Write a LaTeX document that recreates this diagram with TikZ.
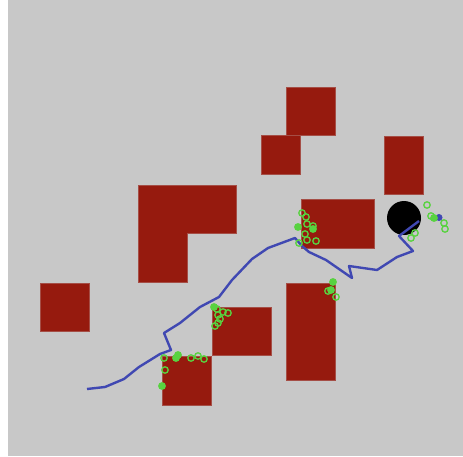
\documentclass[tikz,border=0pt]{standalone}
\usepackage{tikz}
\usetikzlibrary{positioning}

\definecolor{floorgray}{RGB}{200,200,200}
\definecolor{wallred}{RGB}{150,26,14}
\definecolor{pathblue}{RGB}{64,72,178}
\definecolor{sampgreen}{RGB}{88,210,64}

\begin{document}
\begin{tikzpicture}[
    x=0.5mm, y=-0.5mm,
    obstacle/.style={fill=wallred, draw=wallred!70!floorgray, line width=0.6pt},
    route/.style={draw=pathblue, line width=3.4pt, line join=round},
    sample/.style={draw=sampgreen, line width=1.9pt},
    hitsample/.style={draw=sampgreen, fill=sampgreen, line width=1.9pt}
]

% Background
\useasboundingbox (0,0) rectangle (463,456);
\fill[white] (0,0) rectangle (463,456);
\fill[floorgray] (8,0) rectangle (463,456);

% Obstacles
\path[obstacle] (286,87) rectangle (335,135);
\path[obstacle] (261,135) rectangle (300,174);
\path[obstacle] (384,136) rectangle (423,194);
\path[obstacle] (138,185) -- (236,185) -- (236,233) -- (187,233) -- (187,282) -- (138,282) -- cycle;
\path[obstacle] (301,199) rectangle (374,248);
\path[obstacle] (40,283) rectangle (89,331);
\path[obstacle] (212,307) rectangle (271,355);
\path[obstacle] (162,356) rectangle (211,405);
\path[obstacle] (286,283) rectangle (335,380);

% Robot and goal
\fill[black] (404,218) circle (17);
\fill[pathblue] (439,217.5) circle (3.5);

% Planned path
\draw[route] (87,389) -- (105,387) -- (124,379) -- (139,367) -- (160,354)
    -- (171,350) -- (164,333) -- (180,323) -- (200,307) -- (219,297)
    -- (232,280) -- (252,259) -- (268,248) -- (295,238) -- (302,246)
    -- (309,252) -- (326,260) -- (352,278) -- (349,266) -- (377,270)
    -- (397,257) -- (413,251) -- (399,236) -- (419,221);

% Samples
\foreach \sx/\sy in {302/213, 306/217, 307/224, 313/226, 305/234, 307/240, 316/241,
    299/243, 427/205, 431/216, 444/223, 445/229, 415/233, 411/238,
    328/291, 336/297, 217/309, 223/312, 228/313, 218/315, 220/319, 218/323, 215/326,
    164/358, 191/358, 198/356, 204/359, 165/370}
    \draw[sample] (\sx,\sy) circle (3.2);
\foreach \sx/\sy in {298/227, 313/229, 434/218, 333/282, 331/290, 214/307,
    176/358, 178/355, 162/386}
    \draw[hitsample] (\sx,\sy) circle (3.2);

\end{tikzpicture}
\end{document}
